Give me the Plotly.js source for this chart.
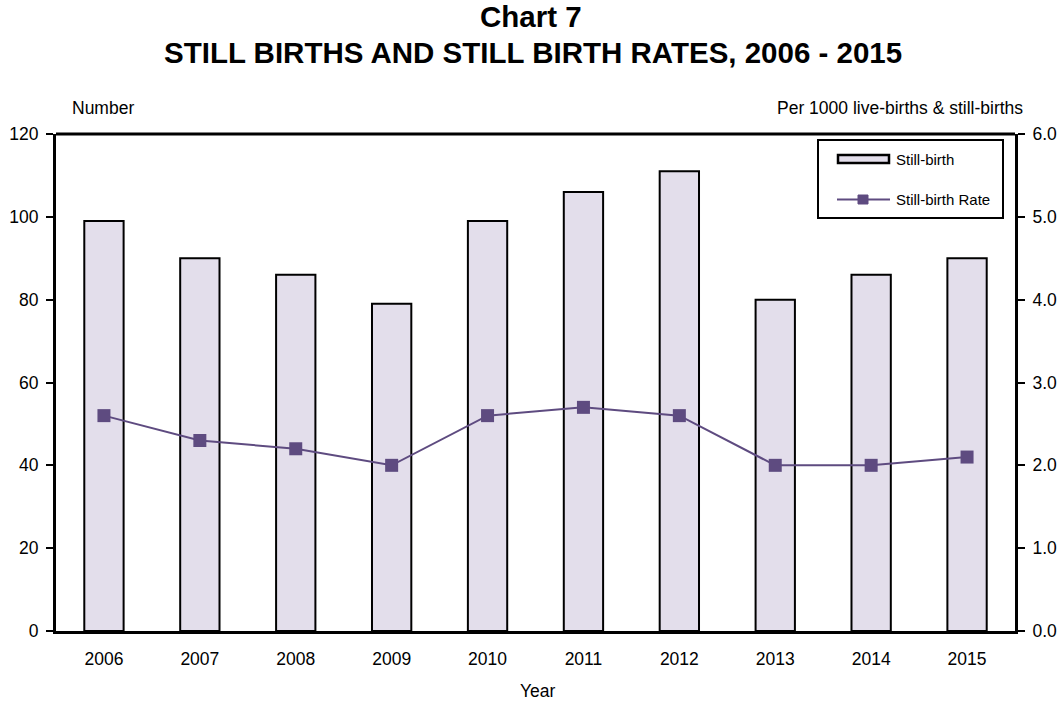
<!DOCTYPE html>
<html><head><meta charset="utf-8">
<script src="https://cdn.plot.ly/plotly-3.0.1.min.js"></script>
<style>body{margin:0;background:#fff}#c{width:1062px;height:702px}</style>
</head><body><div id="c"></div>
<script>
const years = ['2006','2007','2008','2009','2010','2011','2012','2013','2014','2015'];
const stillBirths = [99, 90, 86, 79, 99, 106, 111, 80, 86, 90];
const stillBirthRate = [2.6, 2.3, 2.2, 2.0, 2.6, 2.7, 2.6, 2.0, 2.0, 2.1];
const seriesNames = ['Still-birth', 'Still-birth Rate'];

const F = 'Liberation Sans, Arial, sans-serif';
const FS = 17.5;
const barColor = '#E3DEEB', lineColor = '#5E4B80';
const traces = [
  {type:'bar', x:years, y:stillBirths, name:seriesNames[0], showlegend:false,
   marker:{color:barColor, line:{color:'#000', width:2}}},
  {type:'scatter', mode:'lines+markers', x:years, y:stillBirthRate, yaxis:'y2', name:seriesNames[1], showlegend:false,
   line:{color:lineColor, width:2}, marker:{symbol:'square', size:13, color:lineColor}}
];
// pixel helpers for the legend box (paper coords)
const L = 56, R = 1015, T = 134, B = 631;
const px = x => (x - L) / (R - L), py = y => (B - y) / (B - T);
const layout = {
  width:1062, height:702,
  margin:{l:56, r:47, t:134, b:71},
  paper_bgcolor:'#fff', plot_bgcolor:'#fff',
  font:{family:F, size:FS, color:'#000'},
  bargap:0.59,
  showlegend:false,
  xaxis:{type:'category', range:[-0.5, 9.5], showline:true, linecolor:'#000', linewidth:3, ticks:'', showgrid:false, zeroline:false,
    tickfont:{size:FS}, ticklabelstandoff:10},
  yaxis:{range:[0,120], dtick:20, showline:true, linecolor:'#000', linewidth:3, ticks:'outside', ticklen:7, tickwidth:2, tickcolor:'#000',
    showgrid:false, zeroline:false, tickfont:{size:FS}, ticklabelstandoff:4},
  yaxis2:{range:[0,6], dtick:1, tickformat:'.1f', overlaying:'y', side:'right', showline:true, linecolor:'#000', linewidth:3,
    ticks:'outside', ticklen:7, tickwidth:2, tickcolor:'#000', showgrid:false, zeroline:false, tickfont:{size:FS}, ticklabelstandoff:4},
  shapes:[
    {type:'line', xref:'paper', yref:'paper', x0:0, x1:1, y0:1, y1:1, line:{color:'#000', width:3}},
    // legend box
    {type:'rect', xref:'paper', yref:'paper', x0:px(818), x1:px(1003), y0:py(218), y1:py(140), line:{color:'#000', width:2}, fillcolor:'#fff'},
    {type:'rect', xref:'paper', yref:'paper', x0:px(838), x1:px(889), y0:py(163), y1:py(155), line:{color:'#000', width:2.5}, fillcolor:barColor},
    {type:'line', xref:'paper', yref:'paper', x0:px(837), x1:px(890), y0:py(199.5), y1:py(199.5), line:{color:lineColor, width:2}},
    {type:'rect', xref:'paper', yref:'paper', x0:px(858), x1:px(868), y0:py(204), y1:py(195), line:{color:lineColor, width:1}, fillcolor:lineColor}
  ],
  annotations:[
    {text:'<b>Chart 7</b>', xref:'paper', yref:'paper', x:px(531), y:py(17), xanchor:'center', yanchor:'middle', showarrow:false, font:{size:29.5}},
    {text:'<b>STILL BIRTHS AND STILL BIRTH RATES, 2006 - 2015</b>', xref:'paper', yref:'paper', x:px(533), y:py(52), xanchor:'center', yanchor:'middle', showarrow:false, font:{size:29.5}},
    {text:'Number', xref:'paper', yref:'paper', x:px(103), y:py(108), xanchor:'center', yanchor:'middle', showarrow:false, font:{size:FS}},
    {text:'Per 1000 live-births & still-births', xref:'paper', yref:'paper', x:px(1025), y:py(108), xanchor:'right', yanchor:'middle', showarrow:false, font:{size:FS}},
    {text:'Year', xref:'paper', yref:'paper', x:px(538), y:py(691), xanchor:'center', yanchor:'middle', showarrow:false, font:{size:FS}},
    {text:seriesNames[0], xref:'paper', yref:'paper', x:px(894), y:py(159), xanchor:'left', yanchor:'middle', showarrow:false, font:{size:15}},
    {text:seriesNames[1], xref:'paper', yref:'paper', x:px(894), y:py(199.5), xanchor:'left', yanchor:'middle', showarrow:false, font:{size:15}}
  ]
};
Plotly.newPlot('c', traces, layout, {displayModeBar:false, staticPlot:true});
</script></body></html>
